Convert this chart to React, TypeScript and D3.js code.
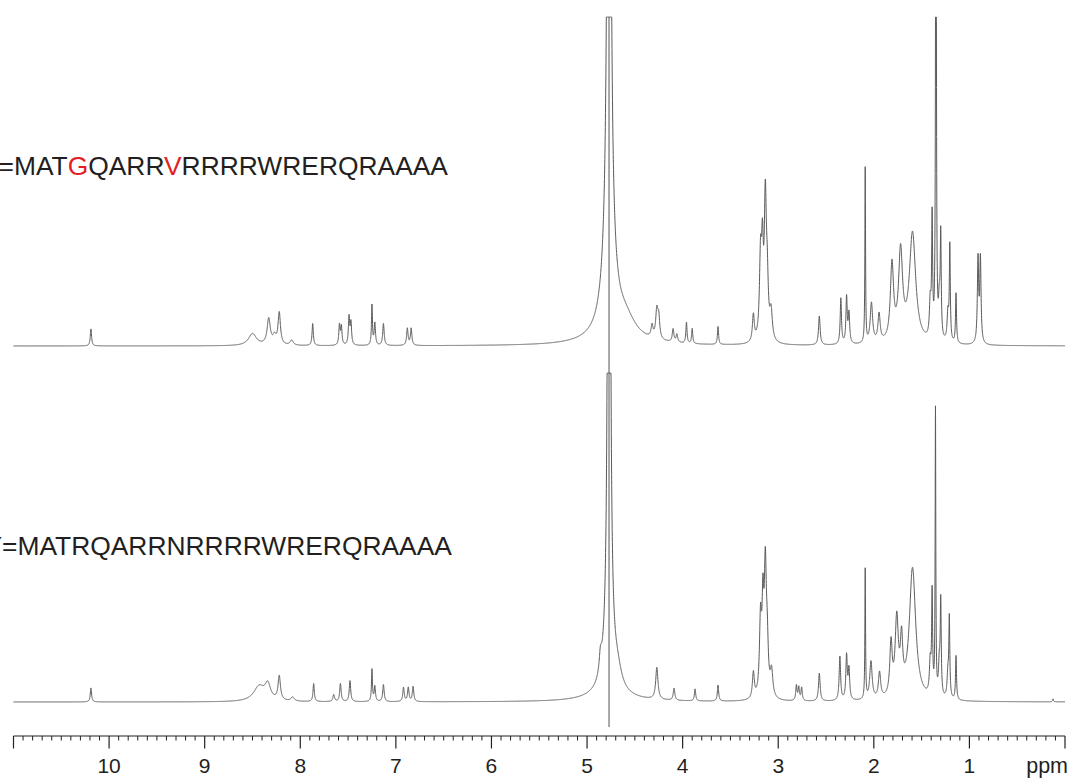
import React from "react";
import * as d3 from "d3";

// ---- Data (ppm, height, half-width) ----
const topPeaks: [number, number, number][] = [
  [10.19, 17, 0.008],
  [8.5, 12, 0.05], [8.33, 26, 0.02], [8.27, 8, 0.02], [8.22, 32, 0.015], [8.09, 5, 0.02],
  [7.87, 22, 0.008],
  [7.59, 20, 0.008], [7.57, 18, 0.008],
  [7.49, 28, 0.008], [7.47, 22, 0.008],
  [7.25, 40, 0.006], [7.22, 22, 0.008],
  [7.13, 22, 0.009],
  [6.88, 17, 0.009], [6.84, 17, 0.009],
  [4.77, 2000, 0.01], [4.77, 120, 0.06], [4.77, 5, 0.3], [4.6, 20, 0.13],
  [4.32, 12, 0.012], [4.27, 28, 0.014], [4.25, 20, 0.012],
  [4.10, 13, 0.01], [4.06, 8, 0.01],
  [3.96, 21, 0.007], [3.90, 15, 0.007],
  [3.63, 18, 0.007],
  [3.26, 27, 0.012],
  [3.185, 80, 0.013], [3.165, 78, 0.011], [3.135, 135, 0.013], [3.115, 50, 0.013], [3.075, 28, 0.016],
  [2.57, 29, 0.01],
  [2.345, 46, 0.008], [2.285, 46, 0.008], [2.26, 30, 0.009],
  [2.09, 175, 0.004],
  [2.025, 40, 0.015],
  [1.945, 28, 0.014],
  [1.81, 76, 0.02], [1.72, 88, 0.025], [1.595, 110, 0.04],
  [1.41, 35, 0.01], [1.39, 118, 0.006],
  [1.35, 800, 0.004],
  [1.315, 35, 0.01], [1.30, 100, 0.006],
  [1.225, 28, 0.01], [1.205, 95, 0.006],
  [1.14, 50, 0.006],
  [0.91, 84, 0.008], [0.885, 84, 0.008],
];

const bottomPeaks: [number, number, number][] = [
  [10.19, 14, 0.008],
  [8.43, 15, 0.07], [8.34, 15, 0.035], [8.22, 24, 0.015], [8.08, 4, 0.02],
  [7.86, 18, 0.008],
  [7.65, 7, 0.01],
  [7.58, 18, 0.009],
  [7.48, 21, 0.009],
  [7.25, 32, 0.006], [7.22, 15, 0.008],
  [7.13, 17, 0.009],
  [6.92, 14, 0.009], [6.87, 14, 0.009], [6.82, 15, 0.009],
  [4.77, 2000, 0.008], [4.77, 70, 0.05], [4.77, 6, 0.25], [4.86, 18, 0.015], [4.68, 15, 0.05],
  [4.27, 32, 0.014],
  [4.09, 12, 0.01],
  [3.87, 12, 0.008],
  [3.63, 16, 0.008],
  [3.26, 26, 0.012],
  [3.185, 75, 0.013], [3.16, 82, 0.011], [3.135, 122, 0.013], [3.115, 45, 0.013], [3.07, 26, 0.016],
  [2.81, 15, 0.008], [2.785, 13, 0.008], [2.755, 13, 0.008],
  [2.57, 28, 0.01],
  [2.355, 44, 0.009], [2.285, 44, 0.009], [2.26, 30, 0.009],
  [2.09, 130, 0.004],
  [2.03, 38, 0.015],
  [1.94, 26, 0.014],
  [1.82, 52, 0.015], [1.76, 76, 0.02], [1.71, 50, 0.015],
  [1.595, 132, 0.04],
  [1.41, 32, 0.01], [1.39, 100, 0.006],
  [1.355, 285, 0.004],
  [1.315, 32, 0.01], [1.30, 92, 0.006],
  [1.225, 24, 0.01], [1.21, 78, 0.006],
  [1.14, 44, 0.006],
  [0.125, 3, 0.005],
];

const majorTicks = [10, 9, 8, 7, 6, 5, 4, 3, 2, 1];
const topLabelParts: { t: string; red: boolean }[] = [
  { t: "=MAT", red: false },
  { t: "G", red: true },
  { t: "QARR", red: false },
  { t: "V", red: true },
  { t: "RRRRWRERQRAAAA", red: false },
];
const bottomPrefix = "Y";
const bottomLabel = "=MATRQARRNRRRRWRERQRAAAA";
const waterPpm = 4.77;
const MAX_I = 329;

const W = 1073;
const H = 780;
const FONT = "'Liberation Sans', Arial, Helvetica, sans-serif";

function spectrum(peaks: [number, number, number][]) {
  const grid = d3.range(0, 11.0005, 0.001);
  return grid.map((x) => {
    let v = 0;
    for (const [p, h, w] of peaks) {
      const d = x - p;
      v += (h * w * w) / (d * d + w * w);
    }
    return { ppm: x, v: Math.min(v, MAX_I) };
  });
}

export default function App() {
  const x = d3.scaleLinear().domain([11, 0]).range([13.5, 1065]);
  const yTop = d3.scaleLinear().domain([0, MAX_I]).range([346, 17]);
  const yBot = d3.scaleLinear().domain([0, MAX_I]).range([702, 373]);

  const topData = spectrum(topPeaks);
  const botData = spectrum(bottomPeaks);

  const lineTop = d3
    .line<{ ppm: number; v: number }>()
    .x((d) => x(d.ppm))
    .y((d) => yTop(d.v));
  const lineBot = d3
    .line<{ ppm: number; v: number }>()
    .x((d) => x(d.ppm))
    .y((d) => yBot(d.v));

  const minorTicks = d3.range(1, 110).map((i) => i / 10).filter((t) => Math.abs(t - Math.round(t)) > 1e-6);
  const axisY = 736;

  return (
    <svg
      width={W}
      height={H}
      style={{ position: "absolute", left: 0, top: 0, background: "#fff" }}
      xmlns="http://www.w3.org/2000/svg"
    >
      <rect x={0} y={0} width={W} height={H} fill="#fff" />
      {/* water artifact line */}
      <line
        x1={x(waterPpm)}
        x2={x(waterPpm)}
        y1={17}
        y2={727}
        stroke="#8c8c8c"
        strokeWidth={1.5}
      />
      <path d={lineTop(topData) || ""} fill="none" stroke="#5a5a5a" strokeWidth={1} />
      <path d={lineBot(botData) || ""} fill="none" stroke="#5a5a5a" strokeWidth={1} />

      {/* sequence labels */}
      <text x={-1.5} y={175} fontFamily={FONT} fontSize={26.4} fill="#231f20">
        {topLabelParts.map((p, i) => (
          <tspan key={i} fill={p.red ? "#e31e24" : "#231f20"}>
            {p.t}
          </tspan>
        ))}
      </text>
      <text x={2} y={555} textAnchor="end" fontFamily={FONT} fontSize={26.4} fill="#231f20">
        {bottomPrefix}
      </text>
      <text x={2} y={555} fontFamily={FONT} fontSize={26.4} fill="#231f20">
        {bottomLabel}
      </text>

      {/* axis */}
      <g stroke="#222" strokeWidth={1.2}>
        <line x1={x(11)} x2={x(0)} y1={axisY} y2={axisY} />
        <line x1={x(11)} x2={x(11)} y1={axisY} y2={axisY + 12.5} />
        <line x1={x(0)} x2={x(0)} y1={axisY} y2={axisY + 12.5} />
        {majorTicks.map((t) => (
          <line key={"M" + t} x1={x(t)} x2={x(t)} y1={axisY} y2={axisY + 12.5} />
        ))}
        {minorTicks.map((t) => (
          <line key={"m" + t} x1={x(t)} x2={x(t)} y1={axisY} y2={axisY + 4.5} strokeWidth={1} />
        ))}
      </g>
      {majorTicks.map((t) => (
        <text
          key={"L" + t}
          x={x(t)}
          y={773}
          textAnchor="middle"
          fontFamily={FONT}
          fontSize={21}
          fill="#231f20"
        >
          {t}
        </text>
      ))}
      <text x={1068} y={773} textAnchor="end" fontFamily={FONT} fontSize={21.5} fill="#231f20">
        ppm
      </text>
    </svg>
  );
}
